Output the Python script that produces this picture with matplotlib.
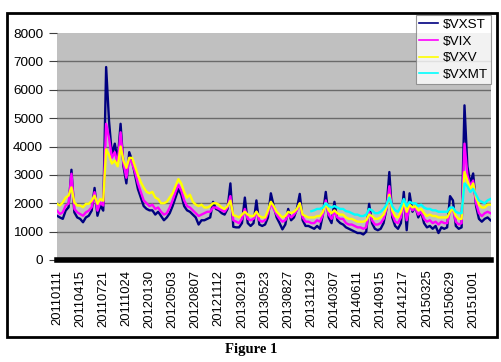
import numpy as np
import matplotlib
matplotlib.use("Agg")
import matplotlib.pyplot as plt
from matplotlib.patches import Rectangle

plt.rcParams['font.family'] = ['Liberation Sans', 'DejaVu Sans']

# tick labels, one every 8 samples
dateLabels = ["20110111", "20110415", "20110721", "20111024", "20120130", "20120503",
              "20120807", "20121112", "20130219", "20130523", "20130827", "20131129",
              "20140307", "20140611", "20140915", "20141217", "20150325", "20150629",
              "20151001"]
samplesPerLabel = 8

# values (index level x 100)
vxst = [1560, 1500, 1450, 1740, 1860, 3180, 1680, 1500, 1450, 1330,
        1500, 1560, 1740, 2540, 1560, 1920, 1740, 6800, 4900, 3700,
        4100, 3500, 4800, 3300, 2700, 3800, 3500, 3000, 2500, 2200,
        1900, 1800, 1750, 1750, 1600, 1700, 1550, 1400, 1500, 1650,
        1900, 2200, 2500, 2300, 1900, 1750, 1700, 1600, 1500, 1250,
        1400, 1400, 1450, 1500, 2050, 1800, 1750, 1650, 1600, 1800,
        2700, 1170, 1150, 1150, 1300, 2200, 1300, 1200, 1300, 2100,
        1250, 1200, 1250, 1500, 2350, 1900, 1500, 1300, 1080, 1250,
        1800, 1400, 1500, 1800, 2330, 1400, 1200, 1200, 1150, 1100,
        1200, 1100, 1600, 2400, 1500, 1300, 2050, 1400, 1300, 1250,
        1150, 1100, 1050, 1000, 950, 950, 900, 1000, 1980, 1300,
        1100, 1050, 1100, 1300, 1800, 3100, 1500, 1200, 1100, 1300,
        2400, 1050, 2350, 1700, 1900, 1500, 1700, 1300, 1150, 1200,
        1100, 1200, 950, 1150, 1100, 1150, 2250, 2100, 1200, 1100,
        1150, 5450, 3300, 2700, 3050, 1900, 1450, 1350, 1450, 1500,
        1400]
vix = [1740, 1620, 1680, 1920, 1980, 3040, 1800, 1680, 1620, 1560,
       1680, 1740, 1860, 2390, 1740, 2030, 1920, 4800, 4300, 3600,
       3800, 3400, 4500, 3400, 2900, 3600, 3400, 3100, 2700, 2400,
       2100, 2000, 1900, 1950, 1800, 1850, 1700, 1600, 1650, 1850,
       2100, 2400, 2650, 2450, 2100, 1900, 1850, 1750, 1650, 1550,
       1600, 1650, 1700, 1700, 1850, 1850, 1800, 1750, 1700, 1850,
       2250, 1400, 1350, 1300, 1450, 1800, 1450, 1400, 1450, 1700,
       1400, 1350, 1400, 1650, 2000, 1800, 1600, 1450, 1350, 1400,
       1600, 1500, 1600, 1750, 2000, 1500, 1350, 1350, 1300, 1300,
       1400, 1350, 1600, 2100, 1600, 1450, 1700, 1500, 1450, 1450,
       1300, 1250, 1250, 1200, 1150, 1150, 1100, 1150, 1700, 1400,
       1250, 1250, 1300, 1450, 1800, 2600, 1600, 1350, 1300, 1500,
       2100, 1400, 1900, 1750, 1850, 1600, 1700, 1450, 1350, 1400,
       1300, 1350, 1250, 1350, 1300, 1300, 1700, 1800, 1350, 1250,
       1300, 4100, 3000, 2600, 2800, 2000, 1650, 1550, 1650, 1700,
       1650]
vxv = [1980, 1920, 2030, 2200, 2270, 2560, 2030, 1920, 1920, 1860,
       1980, 1980, 2090, 2270, 1980, 2150, 2090, 3900, 3700, 3400,
       3500, 3300, 4000, 3500, 3250, 3600, 3600, 3300, 3000, 2750,
       2550, 2400, 2350, 2400, 2200, 2150, 2000, 2000, 2050, 2200,
       2350, 2600, 2850, 2700, 2400, 2200, 2300, 2050, 1950, 1900,
       1950, 1850, 1850, 1900, 2000, 2000, 1950, 1850, 1800, 1900,
       2090, 1580, 1550, 1500, 1600, 1700, 1600, 1550, 1550, 1700,
       1550, 1500, 1500, 1750, 2050, 1900, 1700, 1600, 1500, 1550,
       1700, 1650, 1700, 1800, 2000, 1600, 1550, 1500, 1500, 1500,
       1550, 1550, 1700, 2000, 1750, 1650, 1750, 1650, 1600, 1600,
       1500, 1450, 1450, 1400, 1350, 1350, 1350, 1400, 1600, 1550,
       1450, 1450, 1500, 1600, 1850, 2300, 1750, 1550, 1500, 1700,
       2050, 1700, 1950, 1850, 1900, 1750, 1800, 1650, 1550, 1600,
       1550, 1550, 1500, 1500, 1500, 1500, 1700, 1800, 1550, 1450,
       1450, 3100, 2800, 2500, 2700, 2200, 1950, 1850, 1850, 1950,
       1950]
# VXMT only starts late 2013, runs to the same last date
vxmt = [1720, 1750, 1800, 1800, 1850, 2000, 1900, 1850, 1900, 1850,
        1800, 1800, 1720, 1700, 1650, 1600, 1600, 1550, 1550, 1600,
        1800, 1750, 1650, 1650, 1700, 1800, 1950, 2200, 1900, 1750,
        1700, 1900, 2150, 1900, 2050, 2000, 2000, 1900, 1950, 1850,
        1800, 1800, 1750, 1750, 1700, 1700, 1700, 1700, 1850, 1850,
        1700, 1650, 1650, 2700, 2600, 2400, 2500, 2300, 2100, 2050,
        2000, 2100, 2150]

W, H = 502, 362
fig = plt.figure(figsize=(W / 100, H / 100), dpi=100)
ax = fig.add_axes([57 / W, 1 - 260 / H, (491 - 57) / W, (260 - 33) / H])
ax.set_facecolor('#c0c0c0')

x = np.arange(len(vxst))
lw = 1.7
ax.plot(x, vxst, color='#000080', lw=lw, label='\\$VXST')
ax.plot(x, vix, color='#ff00ff', lw=lw, label='\\$VIX')
ax.plot(x, vxv, color='#ffff00', lw=lw, label='\\$VXV')
ax.plot(x[-len(vxmt):], vxmt, color='#00ffff', lw=lw, label='\\$VXMT')

ax.set_ylim(0, 8000)
ax.set_xlim(0, (491 - 57) / 2.89)
yt = np.arange(0, 8001, 1000)
ax.set_yticks(yt)
ax.set_yticklabels([str(v) for v in yt], fontsize=9.7)
for v in yt[1:-1]:
    ax.axhline(v, color='#6a6a6a', lw=1.0, zorder=0.5)

ax.set_xticks(np.arange(len(dateLabels)) * samplesPerLabel)
ax.set_xticklabels(dateLabels, rotation=90, fontsize=9.4)
ax.tick_params(axis='x', length=0, pad=7)
ax.tick_params(axis='y', length=6, width=0.8, color='#404040', pad=4)

for s in ['top', 'right', 'left']:
    ax.spines[s].set_visible(False)
ax.spines['bottom'].set_linewidth(4)
ax.spines['bottom'].set_color('black')

leg = fig.legend(loc='upper right', bbox_to_anchor=(491 / W, 1 - 15 / H),
                 borderaxespad=0, fontsize=9.7, frameon=True, fancybox=False,
                 handlelength=1.4, handletextpad=0.35, labelspacing=0.32,
                 borderpad=0.25)
leg.get_frame().set_edgecolor('#808080')
leg.get_frame().set_linewidth(0.8)
for ln in leg.get_lines():
    ln.set_linewidth(1.2)

fig.patches.append(Rectangle((7 / W, 1 - 337 / H), 490 / W, 324 / H,
                             transform=fig.transFigure, fill=False,
                             edgecolor='black', lw=2))
fig.text(0.5, 1 - 350 / H, 'Figure 1', ha='center', va='center',
         fontsize=10.5, fontweight='bold', family=['Liberation Serif', 'DejaVu Serif'])

fig.savefig('out.png', dpi=100)
